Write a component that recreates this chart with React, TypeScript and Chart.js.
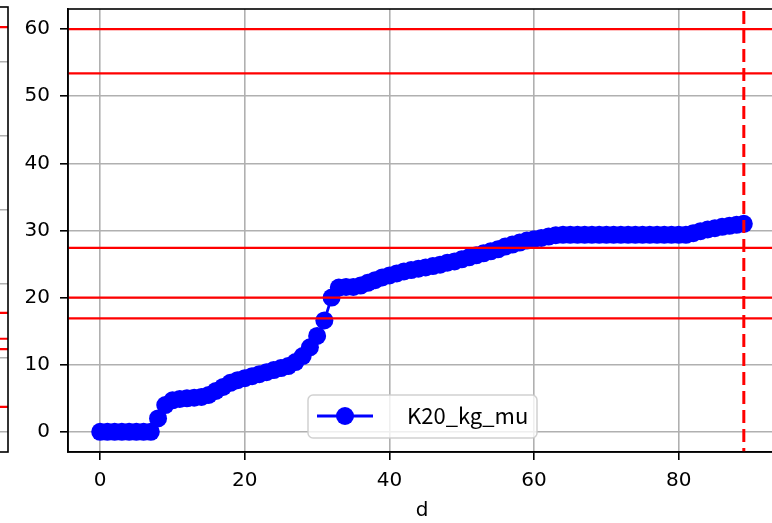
import React, { useEffect, useRef } from "react";
import { Chart, registerables } from "chart.js";

Chart.register(...registerables);

// ---------- data ----------
const dValues = [
  0, 1, 2, 3, 4, 5, 6, 7, 8, 9,
  10, 11, 12, 13, 14, 15, 16, 17, 18, 19,
  20, 21, 22, 23, 24, 25, 26, 27, 28, 29,
  30, 31, 32, 33, 34, 35, 36, 37, 38, 39,
  40, 41, 42, 43, 44, 45, 46, 47, 48, 49,
  50, 51, 52, 53, 54, 55, 56, 57, 58, 59,
  60, 61, 62, 63, 64, 65, 66, 67, 68, 69,
  70, 71, 72, 73, 74, 75, 76, 77, 78, 79,
  80, 81, 82, 83, 84, 85, 86, 87, 88, 89,
];

const k20Values = [
  0, 0, 0, 0, 0, 0, 0, 0, 2.0, 4.0,
  4.7, 4.9, 5.0, 5.1, 5.2, 5.5, 6.1, 6.7, 7.3, 7.7,
  8.0, 8.3, 8.6, 8.9, 9.2, 9.5, 9.8, 10.4, 11.3, 12.6,
  14.3, 16.6, 20.0, 21.5, 21.6, 21.6, 21.8, 22.2, 22.6, 23.0,
  23.3, 23.6, 23.9, 24.1, 24.3, 24.5, 24.7, 24.9, 25.2, 25.4,
  25.7, 26.0, 26.3, 26.6, 26.9, 27.2, 27.6, 27.9, 28.2, 28.5,
  28.7, 28.9, 29.1, 29.3, 29.35, 29.35, 29.35, 29.35, 29.35, 29.35,
  29.35, 29.35, 29.35, 29.35, 29.35, 29.35, 29.35, 29.35, 29.35, 29.35,
  29.35, 29.35, 29.6, 29.9, 30.15, 30.35, 30.55, 30.7, 30.85, 31.0,
];

const redLevels = [60, 53.4, 27.4, 20.0, 16.9];
const cutoffDay = 89;

const xTicks = [0, 20, 40, 60, 80];
const yTicks = [0, 10, 20, 30, 40, 50, 60];

// neighbouring (cropped) subplot on the left
const leftGridTicks = [0, 10, 20, 30, 40, 50];
const leftRedLevels = [54.7, 16.1, 12.6, 11.2, 3.4];

const seriesLabel = "K20_kg_mu";
const xTitle = "d";

// ---------- styles ----------
const TICK_FONT = '"DejaVu Sans", sans-serif';
const LEGEND_FONT = '"Noto Sans CJK JP", "Noto Sans", sans-serif';
const BLUE = "#0000ff";
const RED = "#ff0000";
const GRID = "#b0b0b0";
const LW = 1.6;

const framePlugin = {
  id: "frame",
  afterDraw(chart: any) {
    const { ctx, chartArea: a } = chart;
    ctx.save();
    ctx.strokeStyle = "#000";
    ctx.lineWidth = LW;
    ctx.strokeRect(a.left, a.top, a.right - a.left, a.bottom - a.top);
    ctx.restore();
  },
};

const legendPlugin = {
  id: "customLegend",
  afterDraw(chart: any) {
    const ds = chart.data.datasets[0];
    const ctx = chart.ctx;
    const bx = 308, by = 395, bw = 229, bh = 43, r = 5;
    ctx.save();
    ctx.beginPath();
    ctx.moveTo(bx + r, by);
    ctx.lineTo(bx + bw - r, by);
    ctx.arcTo(bx + bw, by, bx + bw, by + r, r);
    ctx.lineTo(bx + bw, by + bh - r);
    ctx.arcTo(bx + bw, by + bh, bx + bw - r, by + bh, r);
    ctx.lineTo(bx + r, by + bh);
    ctx.arcTo(bx, by + bh, bx, by + bh - r, r);
    ctx.lineTo(bx, by + r);
    ctx.arcTo(bx, by, bx + r, by, r);
    ctx.closePath();
    ctx.fillStyle = "rgba(255,255,255,0.8)";
    ctx.fill();
    ctx.strokeStyle = "rgba(204,204,204,0.9)";
    ctx.lineWidth = 1.5;
    ctx.stroke();

    const ly = 416;
    ctx.strokeStyle = ds.borderColor;
    ctx.lineWidth = ds.borderWidth;
    ctx.beginPath();
    ctx.moveTo(317, ly);
    ctx.lineTo(373, ly);
    ctx.stroke();
    ctx.fillStyle = ds.pointBackgroundColor;
    ctx.beginPath();
    ctx.arc(345, ly, ds.pointRadius, 0, Math.PI * 2);
    ctx.fill();

    ctx.fillStyle = "#000";
    ctx.font = `22px ${LEGEND_FONT}`;
    ctx.textBaseline = "alphabetic";
    ctx.textAlign = "left";
    ctx.fillText(ds.label, 407, 424);
    ctx.restore();
  },
};

export default function App() {
  const mainRef = useRef<HTMLCanvasElement | null>(null);
  const leftRef = useRef<HTMLCanvasElement | null>(null);

  useEffect(() => {
    const tickFont = { family: TICK_FONT, size: 20 };

    const mainChart = new Chart(mainRef.current as HTMLCanvasElement, {
      type: "line",
      data: {
        datasets: [
          {
            label: seriesLabel,
            data: dValues.map((d, i) => ({ x: d, y: k20Values[i] })),
            borderColor: BLUE,
            backgroundColor: BLUE,
            borderWidth: 2.8,
            pointRadius: 9,
            pointHoverRadius: 9,
            pointBorderWidth: 0,
            pointBackgroundColor: BLUE,
            tension: 0,
            order: 1,
          } as any,
          ...redLevels.map((v) => ({
            label: "",
            data: [
              { x: -10, y: v },
              { x: 100, y: v },
            ],
            borderColor: RED,
            borderWidth: 2.2,
            pointRadius: 0,
            order: 0,
          })),
          {
            label: "",
            data: [
              { x: cutoffDay, y: -10 },
              { x: cutoffDay, y: 100 },
            ],
            borderColor: RED,
            borderWidth: 3,
            borderDash: [13, 6],
            pointRadius: 0,
            order: 0,
          },
        ],
      },
      options: {
        animation: false,
        responsive: false,
        devicePixelRatio: 1,
        events: [],
        layout: { padding: { left: 0, top: 7, right: 24, bottom: 0 } },
        plugins: {
          legend: { display: false },
          tooltip: { enabled: false },
        },
        scales: {
          x: {
            type: "linear",
            min: -4.45,
            max: 93.45,
            afterBuildTicks: (a: any) => {
              a.ticks = xTicks.map((v) => ({ value: v }));
            },
            afterFit: (a: any) => {
              a.height = 71;
              a.paddingLeft = 0;
              a.paddingRight = 0;
            },
            grid: {
              color: GRID,
              lineWidth: LW,
              tickColor: "#000",
              tickLength: 8,
              tickWidth: LW,
            },
            border: { color: "#000", width: LW },
            ticks: {
              font: tickFont,
              color: "#000",
              padding: 9,
              maxRotation: 0,
            },
            title: {
              display: true,
              text: xTitle,
              font: tickFont,
              color: "#000",
              padding: { top: 0, bottom: 0 },
            },
          },
          y: {
            type: "linear",
            min: -3,
            max: 63,
            afterBuildTicks: (a: any) => {
              a.ticks = yTicks.map((v) => ({ value: v }));
            },
            afterFit: (a: any) => {
              a.width = 68;
              a.paddingTop = 0;
              a.paddingBottom = 0;
            },
            grid: {
              color: GRID,
              lineWidth: LW,
              tickColor: "#000",
              tickLength: 8,
              tickWidth: LW,
            },
            border: { color: "#000", width: LW },
            ticks: {
              font: tickFont,
              color: "#000",
              padding: 10,
            },
          },
        },
      } as any,
      plugins: [framePlugin, legendPlugin],
    });

    const leftChart = new Chart(leftRef.current as HTMLCanvasElement, {
      type: "line",
      data: {
        datasets: leftRedLevels.map((v) => ({
          label: "",
          data: [
            { x: -1, y: v },
            { x: 2, y: v },
          ],
          borderColor: RED,
          borderWidth: 2.2,
          pointRadius: 0,
        })),
      },
      options: {
        animation: false,
        responsive: false,
        devicePixelRatio: 1,
        events: [],
        layout: { padding: { left: 0, top: 7, right: 10, bottom: 71 } },
        plugins: { legend: { display: false }, tooltip: { enabled: false } },
        scales: {
          x: { type: "linear", min: 0, max: 1, display: false },
          y: {
            type: "linear",
            min: -2.7,
            max: 57.43,
            afterBuildTicks: (a: any) => {
              a.ticks = leftGridTicks.map((v) => ({ value: v }));
            },
            afterFit: (a: any) => {
              a.paddingTop = 0;
              a.paddingBottom = 0;
            },
            ticks: { display: false },
            grid: { color: GRID, lineWidth: LW, drawTicks: false },
            border: { display: false },
          },
        },
      } as any,
      plugins: [framePlugin],
    });

    return () => {
      mainChart.destroy();
      leftChart.destroy();
    };
  }, []);

  return (
    <div
      style={{
        position: "fixed",
        left: 0,
        top: 0,
        width: 772,
        height: 523,
        overflow: "hidden",
        background: "#fff",
      }}
    >
      <canvas
        ref={leftRef}
        width={210}
        height={523}
        style={{ position: "absolute", left: -192, top: 0, width: 210, height: 523, display: "block" }}
      />
      <canvas
        ref={mainRef}
        width={800}
        height={523}
        style={{ position: "absolute", left: 0, top: 0, width: 800, height: 523, display: "block" }}
      />
    </div>
  );
}
